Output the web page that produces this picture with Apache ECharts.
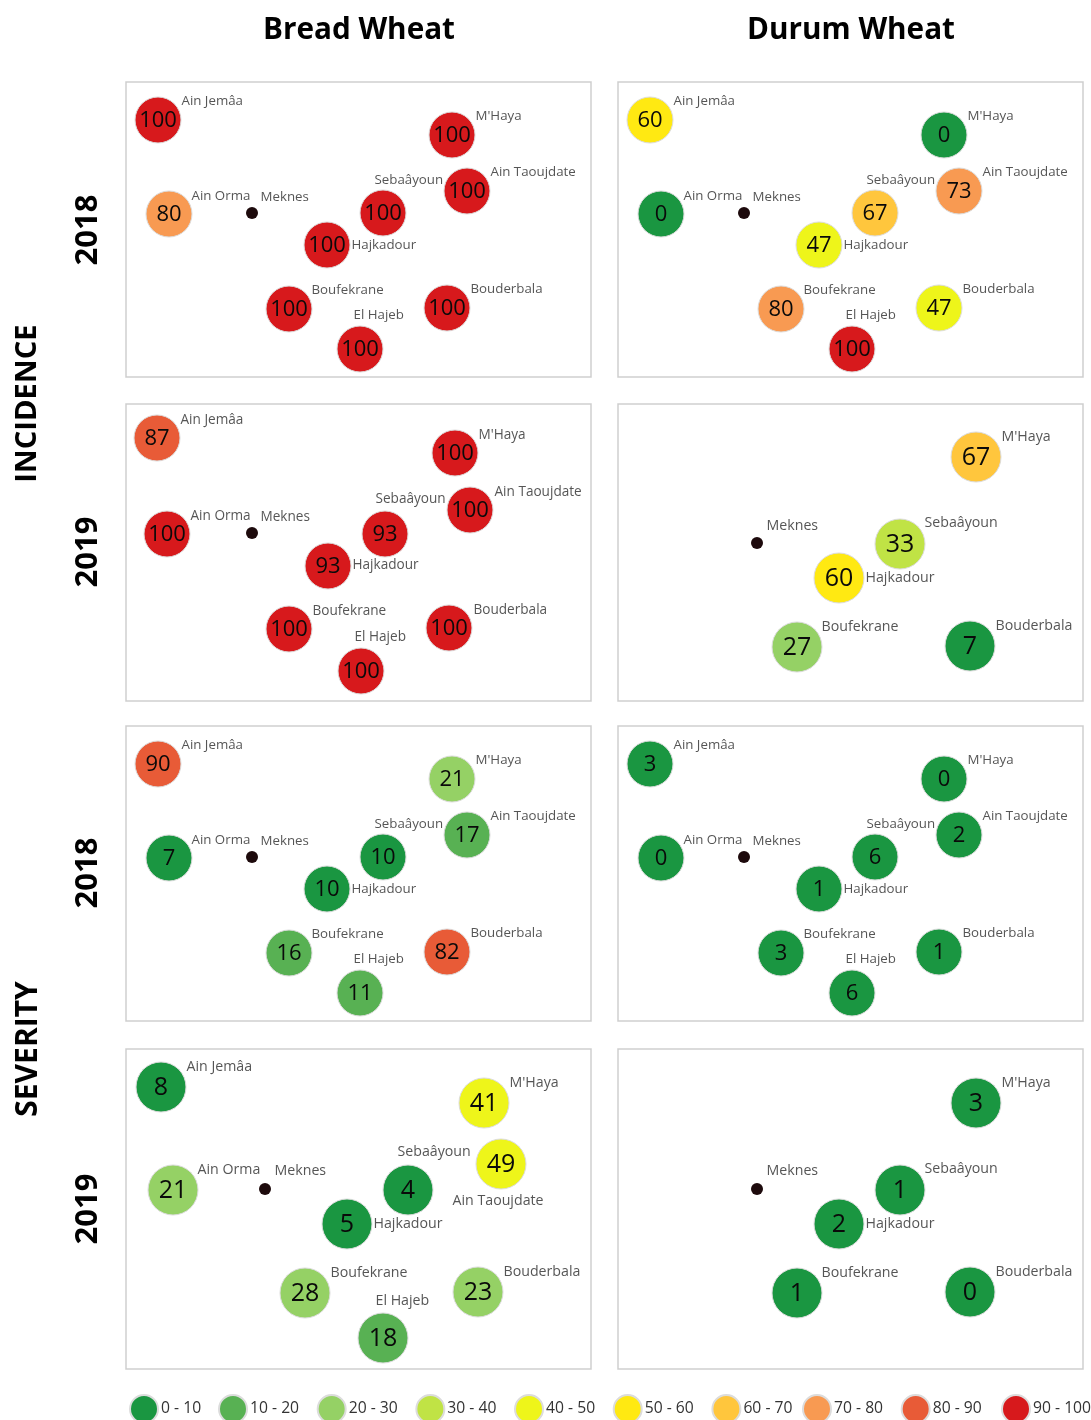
<!DOCTYPE html>
<html>
<head>
<meta charset="utf-8">
<title>Wheat incidence and severity</title>
<style>
  html, body { margin: 0; padding: 0; background: #fff; }
  #main { width: 1091px; height: 1420px; }
</style>
<script src="https://cdn.jsdelivr.net/npm/echarts@6/dist/echarts.min.js"></script>
</head>
<body>
<div id="main"></div>
<script>
// sites, same order everywhere
var sites = ['Ain Jemâa', "M'Haya", 'Ain Taoujdate', 'Sebaâyoun', 'Ain Orma', 'Hajkadour', 'Boufekrane', 'Bouderbala', 'El Hajeb'];

// map position of the sites (x east, y down)
var mapX2018 = [32, 326, 341, 257, 43, 201, 163, 321, 234];
var mapY2018 = [37, 52, 108, 130, 131, 162, 226, 225, 266];
var meknes2018 = [126, 130];
var mapXBread19 = [31, 329, 344, 259, 41, 202, 163, 323, 235];
var mapYBread19 = [33, 48, 105, 129, 129, 161, 224, 223, 266];
var meknesBread19 = [126, 128];
var mapXWide19 = [35, 358, 375, 282, 47, 221, 179, 352, 257];
var mapYWide19 = [37, 53, 114, 140, 140, 174, 243, 242, 288];
var meknesWide19 = [139, 139];

// values per panel, null = not sampled
var incBread2018 = [100, 100, 100, 100, 80, 100, 100, 100, 100];
var incDurum2018 = [60, 0, 73, 67, 0, 47, 80, 47, 100];
var incBread2019 = [87, 100, 100, 93, 100, 93, 100, 100, 100];
var incDurum2019 = [null, 67, null, 33, null, 60, 27, 7, null];
var sevBread2018 = [90, 21, 17, 10, 7, 10, 16, 82, 11];
var sevDurum2018 = [3, 0, 2, 6, 0, 1, 3, 1, 6];
var sevBread2019 = [8, 41, 49, 4, 21, 5, 28, 23, 18];
var sevDurum2019 = [null, 3, null, 1, null, 2, 1, 0, null];

// classes
var binLabels = ['0 - 10', '10 - 20', '20 - 30', '30 - 40', '40 - 50', '50 - 60', '60 - 70', '70 - 80', '80 - 90', '90 - 100'];
var binColors = ['#1a9641', '#58b153', '#95d165', '#c0e345', '#eef51a', '#ffe912', '#ffc63d', '#f89a52', '#e85b37', '#d7191c'];

// where the site name sits next to its bubble
var nameOffset2018 = [[24, -19], [24, -19], [24, -19], [-8, -33], [23, -18], [25, 0], [23, -19], [24, -19], [-6, -34]];
var nameOffsetBread19 = [[24, -18], [24, -18], [25, -18], [-9, -35], [24, -18], [25, -1], [24, -18], [25, -18], [-6, -34]];
var nameOffsetWide19 = [[26, -20], [26, -20], [-48, 37], [-10, -38], [25, -20], [27, 0], [26, -20], [26, -20], [-7, -37]];
var nameOffsetDurum19 = [[26, -20], [26, -20], [-48, 37], [25, -21], [25, -20], [27, 0], [25, -20], [26, -20], [-7, -37]];

var font = '"Open Sans", "Noto Sans", sans-serif';

var panels = [
  { left: 126, top: 82, h: 295, min: -1, vals: incBread2018, x: mapX2018, y: mapY2018, mek: meknes2018, off: nameOffset2018, size: 46, num: 22, txt: 13.3, mekOff: [9, -16] },
  { left: 618, top: 82, h: 295, min: -1, vals: incDurum2018, x: mapX2018, y: mapY2018, mek: meknes2018, off: nameOffset2018, size: 46, num: 22, txt: 13.3, mekOff: [9, -16] },
  { left: 126, top: 404, h: 297, min: -1, vals: incBread2019, x: mapXBread19, y: mapYBread19, mek: meknesBread19, off: nameOffsetBread19, size: 46, num: 22, txt: 13.6, mekOff: [9, -16] },
  { left: 618, top: 404, h: 297, min: 0, vals: incDurum2019, x: mapXWide19, y: mapYWide19, mek: meknesWide19, off: nameOffsetDurum19, size: 50, num: 25, txt: 14.2, mekOff: [10, -17] },
  { left: 126, top: 726, h: 295, min: -1, vals: sevBread2018, x: mapX2018, y: mapY2018, mek: meknes2018, off: nameOffset2018, size: 46, num: 22, txt: 13.3, mekOff: [9, -16] },
  { left: 618, top: 726, h: 295, min: -1, vals: sevDurum2018, x: mapX2018, y: mapY2018, mek: meknes2018, off: nameOffset2018, size: 46, num: 22, txt: 13.3, mekOff: [9, -16] },
  { left: 126, top: 1049, h: 320, min: -1, vals: sevBread2019, x: mapXWide19, y: mapYWide19, mek: meknesWide19, off: nameOffsetWide19, size: 50, num: 25, txt: 14.2, mekOff: [10, -18] },
  { left: 618, top: 1049, h: 320, min: -1, vals: sevDurum2019, x: mapXWide19, y: mapYWide19, mek: meknesWide19, off: nameOffsetDurum19, size: 50, num: 25, txt: 14.2, mekOff: [10, -18] }
];

// upper bound is inclusive, 0 goes in the first class
function binOf(v) {
  return v === 0 ? 0 : Math.min(Math.ceil(v / 10) - 1, 9);
}

var grids = [], xAxes = [], yAxes = [], series = [];

panels.forEach(function (p, i) {
  grids.push({ left: p.left, top: p.top, width: 465, height: p.h, show: true, backgroundColor: '#fff', borderColor: '#cfcfcf', borderWidth: 1.5 });
  xAxes.push({ gridIndex: i, type: 'value', min: 0, max: 465, show: false });
  yAxes.push({ gridIndex: i, type: 'value', min: p.min, max: p.min + p.h, inverse: true, show: false });

  // bubbles, one series per class so the legend picks them up
  binLabels.forEach(function (label, b) {
    var pts = [];
    p.vals.forEach(function (v, k) {
      if (v !== null && binOf(v) === b) pts.push([p.x[k], p.y[k], v]);
    });
    series.push({
      name: label,
      type: 'scatter',
      xAxisIndex: i,
      yAxisIndex: i,
      symbol: 'circle',
      symbolSize: p.size,
      data: pts,
      itemStyle: { color: binColors[b], opacity: 1, borderColor: '#dcdcdc', borderWidth: 1 },
      label: {
        show: true,
        position: 'inside',
        offset: [0, 1],
        color: '#0a0a0a',
        fontFamily: font,
        fontSize: p.num,
        formatter: function (o) { return o.value[2]; }
      },
      emphasis: { disabled: true },
      silent: true
    });
  });

  // site names
  var names = [];
  p.vals.forEach(function (v, k) {
    if (v !== null) {
      names.push({ name: sites[k], value: [p.x[k], p.y[k]], label: { offset: p.off[k] } });
    }
  });
  names.push({ name: 'Meknes', value: p.mek, label: { offset: p.mekOff } });
  series.push({
    name: 'names',
    type: 'scatter',
    xAxisIndex: i,
    yAxisIndex: i,
    symbolSize: 1,
    z: 5,
    data: names,
    itemStyle: { color: 'transparent' },
    label: {
      show: true,
      position: 'right',
      distance: -1,
      color: '#2b2b2b',
      fontFamily: font,
      fontSize: p.txt,
      formatter: '{b}'
    },
    silent: true
  });

  // Meknes dot
  series.push({
    name: 'Meknes',
    type: 'scatter',
    xAxisIndex: i,
    yAxisIndex: i,
    symbol: 'circle',
    symbolSize: 12,
    z: 4,
    data: [p.mek],
    itemStyle: { color: '#1d0a0c', opacity: 1 },
    silent: true
  });
});

function legendPart(names, left) {
  return {
    data: names,
    left: left,
    top: 1394,
    orient: 'horizontal',
    icon: 'circle',
    itemWidth: 28,
    itemHeight: 28,
    itemGap: 17.6,
    selectedMode: false,
    padding: 0,
    textStyle: { color: '#333', fontFamily: font, fontSize: 15.7, padding: [1, 0, 0, -2] }
  };
}

function bigText(text, x, y, size, rot) {
  return {
    type: 'text',
    x: x,
    y: y,
    rotation: rot ? Math.PI / 2 : 0,
    style: {
      text: text,
      fill: '#000',
      font: 'bold ' + size + 'px ' + font,
      align: 'center',
      verticalAlign: 'middle'
    }
  };
}

var chart = echarts.init(document.getElementById('main'));
chart.setOption({
  animation: false,
  backgroundColor: '#fff',
  grid: grids,
  xAxis: xAxes,
  yAxis: yAxes,
  legend: [
    legendPart(binLabels.slice(0, 1), 129),
    legendPart(binLabels.slice(1, 7), 218),
    legendPart(binLabels.slice(7, 9), 802),
    legendPart(binLabels.slice(9), 1001)
  ],
  graphic: [
    bigText('Bread Wheat', 359, 31, 29.7),
    bigText('Durum Wheat', 851, 31, 29.7),
    bigText('2018', 88, 230, 31, true),
    bigText('2019', 88, 552, 31, true),
    bigText('2018', 88, 873, 31, true),
    bigText('2019', 88, 1209, 31, true),
    bigText('INCIDENCE', 28, 403.5, 29.2, true),
    bigText('SEVERITY', 28, 1049, 30, true)
  ],
  series: series
});
</script>
</body>
</html>
